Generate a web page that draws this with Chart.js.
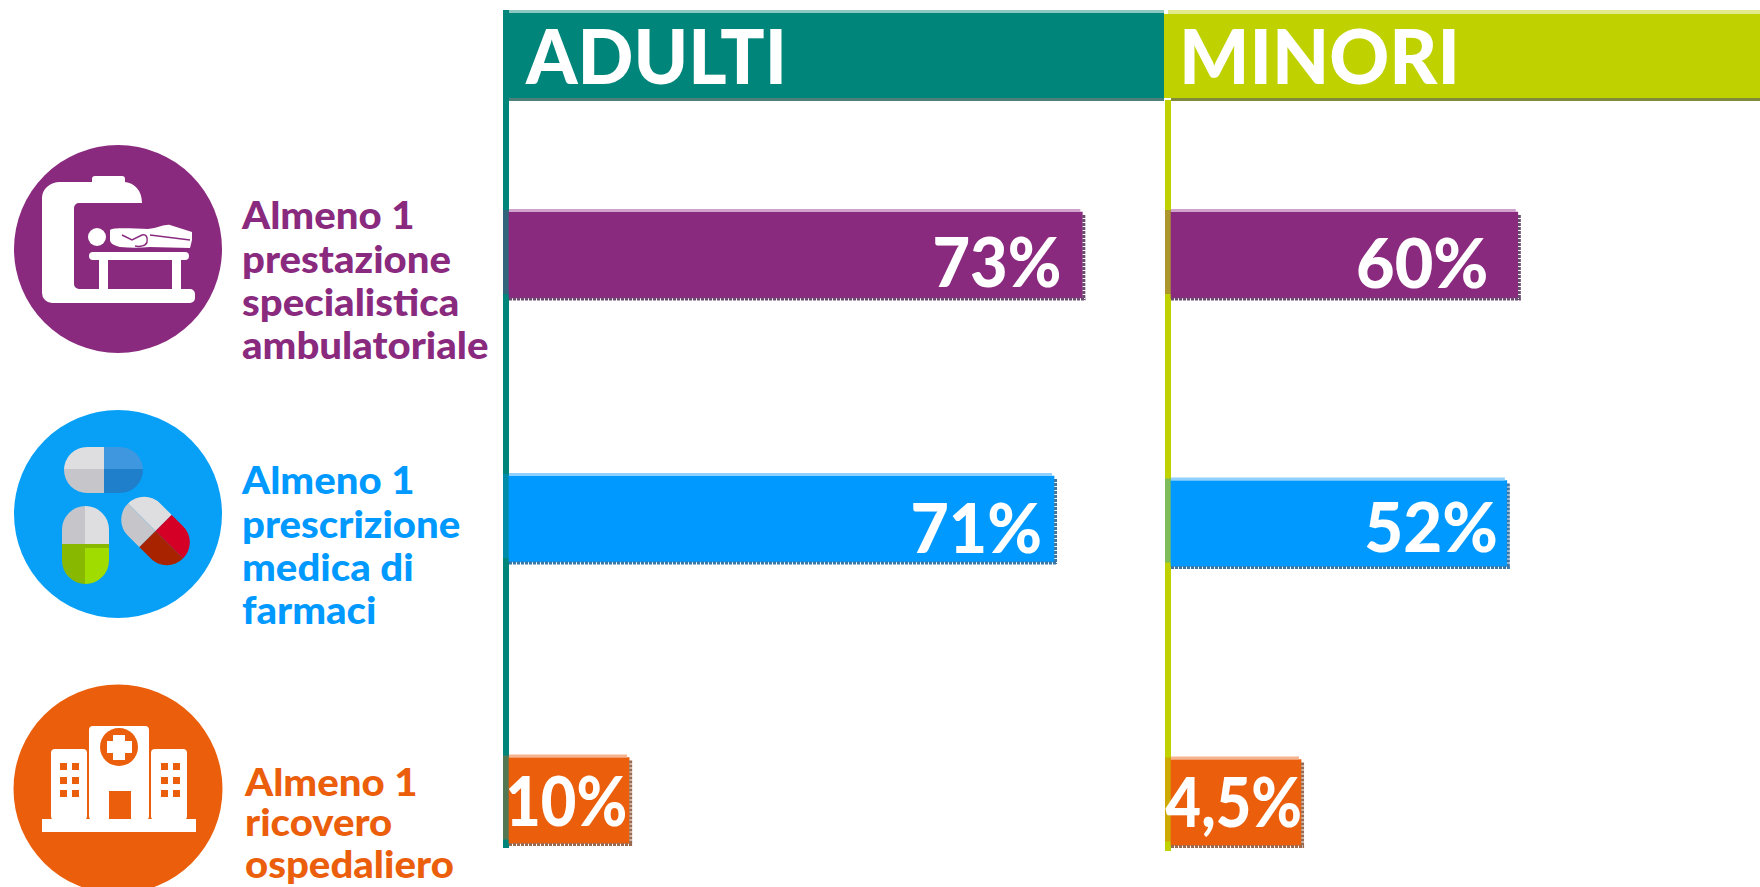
<!DOCTYPE html>
<html lang="it">
<head>
<meta charset="utf-8">
<title>Adulti e minori</title>
<script src="https://cdn.jsdelivr.net/npm/chart.js@4"></script>
<style>
html,body{margin:0;padding:0;background:#fff;width:1760px;height:887px;overflow:hidden}
body{position:relative;font-family:Lato,"Open Sans",sans-serif;font-weight:900}
.abs{position:absolute}
canvas{position:absolute;top:0}
.hdr{position:absolute;color:#fff;font-size:76px;line-height:1;white-space:nowrap;transform-origin:0 0}
.cat{position:absolute;white-space:nowrap;transform-origin:0 100%;line-height:1}
svg{position:absolute;left:0;top:0}
</style>
</head>
<body>
<svg width="1760" height="887" viewBox="0 0 1760 887">
  <defs>
    <clipPath id="c1"><rect x="64" y="447" width="79" height="46" rx="23"/></clipPath>
    <clipPath id="c2"><rect x="62" y="506" width="47" height="78" rx="23.5"/></clipPath>
    <clipPath id="c3"><rect x="-39" y="-23" width="78" height="46" rx="23"/></clipPath>
  </defs>
  <!-- ambulatoriale -->
  <circle cx="118" cy="249" r="104" fill="#8A2A7E"/>
  <path fill="#fff" d="M92 182V179a3 3 0 0 1 3-3H122a3 3 0 0 1 3 3V182C135 183 142 191 142 203H79a5 5 0 0 0-5 5V284a5 5 0 0 0 5 5H190a5 5 0 0 1 5 5V298a5 5 0 0 1-5 5H52a10 10 0 0 1-10-10V198C42 189 50 182 60 182Z"/>
  <rect x="89" y="252" width="100" height="8" rx="4" fill="#fff"/>
  <rect x="99" y="258" width="9" height="32" fill="#fff"/>
  <rect x="172" y="258" width="9" height="32" fill="#fff"/>
  <circle cx="97" cy="237" r="9" fill="#fff"/>
  <path fill="#fff" d="M110 230C115 227 135 229 148 229C158 228 165 224 170 225L192 232V240L190 248L150 247C140 248 130 248 120 247C113 245 110 243 110 240Z"/>
  <path fill="none" stroke="#8A2A7E" stroke-width="1.5" d="M122 235L132 240L142 235C146 234 148 237 147 242C146 246 140 247 135 246"/>
  <path fill="none" stroke="#8A2A7E" stroke-width="1.5" d="M150 235L190 240"/>
  <!-- farmaci -->
  <circle cx="118" cy="514" r="104" fill="#08A0F7"/>
  <g clip-path="url(#c1)">
    <rect x="64" y="447" width="40" height="22" fill="#DEDEE0"/>
    <rect x="64" y="469" width="40" height="24" fill="#C5C5CA"/>
    <rect x="104" y="447" width="39" height="22" fill="#3F97E0"/>
    <rect x="104" y="469" width="39" height="24" fill="#1F7FCB"/>
  </g>
  <g clip-path="url(#c2)">
    <rect x="62" y="506" width="23" height="38" fill="#C5C5CA"/>
    <rect x="85" y="506" width="24" height="38" fill="#DEDEE0"/>
    <rect x="62" y="544" width="23" height="40" fill="#89B800"/>
    <rect x="85" y="544" width="24" height="40" fill="#A0DC00"/>
    <rect x="62" y="544" width="47" height="4" fill="#89B800"/>
  </g>
  <g transform="translate(155.5 531) rotate(45)" clip-path="url(#c3)">
    <rect x="-39" y="-23" width="39" height="23" fill="#DEDEE0"/>
    <rect x="-39" y="0" width="39" height="23" fill="#C5C5CA"/>
    <rect x="0" y="-23" width="39" height="23" fill="#D50025"/>
    <rect x="0" y="0" width="39" height="23" fill="#A82400"/>
  </g>
  <!-- ospedale -->
  <circle cx="118" cy="789" r="104.5" fill="#EB5E0B"/>
  <g fill="#fff">
    <rect x="42" y="819" width="154" height="13"/>
    <rect x="51" y="749" width="36" height="71" rx="4"/>
    <rect x="89" y="726" width="60" height="94" rx="4"/>
    <rect x="151" y="749" width="36" height="71" rx="4"/>
  </g>
  <circle cx="119" cy="747" r="19" fill="#EB5E0B"/>
  <path fill="#fff" d="M113 735H125V741H132V753H125V760H113V753H107V741H113Z"/>
  <rect x="109" y="791" width="22" height="28" fill="#EB5E0B"/>
  <g fill="#EB5E0B">
    <rect x="60" y="763" width="7" height="7"/><rect x="72" y="763" width="7" height="7"/>
    <rect x="60" y="777" width="7" height="7"/><rect x="72" y="777" width="7" height="7"/>
    <rect x="60" y="790" width="7" height="7"/><rect x="72" y="790" width="7" height="7"/>
    <rect x="161" y="763" width="7" height="7"/><rect x="173" y="763" width="7" height="7"/>
    <rect x="161" y="777" width="7" height="7"/><rect x="173" y="777" width="7" height="7"/>
    <rect x="161" y="790" width="7" height="7"/><rect x="173" y="790" width="7" height="7"/>
  </g>
</svg>

<div class="abs" style="left:503px;top:10px;width:6px;height:838px;background:#00857A"></div>
<div class="abs" style="left:1165px;top:100px;width:6px;height:751px;background:#BFD200"></div>
<div class="abs" style="left:503px;top:13px;width:661px;height:85px;background:#00857A"></div>
<div class="abs" style="left:509px;top:10px;width:655px;height:3px;background:#8CC7C2"></div>
<div class="abs" style="left:509px;top:98px;width:655px;height:3px;background:#4F7F7B"></div>
<div class="abs" style="left:1164px;top:14px;width:596px;height:84px;background:#BFD200"></div>
<div class="abs" style="left:1168px;top:10px;width:592px;height:4px;background:#E3EA8E"></div>
<div class="abs" style="left:1171px;top:98px;width:589px;height:3px;background:#7F8A3A"></div>

<canvas id="adulti" width="661" height="887" style="left:503px"></canvas>
<canvas id="minori" width="595" height="887" style="left:1165px"></canvas>

<script>
// Row names, in the reference's line breaks
const categories = [
  ['Almeno 1', 'prestazione', 'specialistica', 'ambulatoriale'],
  ['Almeno 1', 'prescrizione', 'medica di', 'farmaci'],
  ['Almeno 1', 'ricovero', 'ospedaliero']
];
const panelTitles = ['ADULTI', 'MINORI'];

// Printed labels
const adultiLabels = ['73%', '71%', '10%'];
const minoriLabels = ['60%', '52%', '4,5%'];

// Drawn bar lengths. The reference's bars are not
// proportional to their printed labels (the 10% and 4,5% bars are far too long),
// so the lengths are kept apart from the labels, calibrated on the top bar of each panel.
const adultiBars = [73, 69.4, 15.3];
const minoriBars = [60, 58.1, 22.5];

const rowColors = ['#8A2A7E', '#0099FF', '#EB5E0B'];
const rowTints  = ['#CFA3CB', '#8FD0FF', '#F5B48F'];
const rowShades = ['#6A4A70', '#3A76A6', '#9A6A50'];

// Layout of the picture
const PLOT_LEFT_PAD = 6, ROW1_Y = 255, ROW3_Y = 801, BAR_THICK = 86;
const layoutA = {max: 83.4, nudge: [0, -9, -0.5], inset: [21, 12, 2], base: [287, 553, 826], squeeze: [0.94, 0.96, 0.89]};
const layoutM = {max: 101.9, nudge: [0, -4.5, 1.5], inset: [29.5, 9, -1], base: [288, 552, 827], squeeze: [0.965, 0.975, 0.89]};
const LABEL_FONT = '900 69px Lato, "Open Sans", sans-serif';

const barFinish = {
  id: 'barFinish',
  afterDatasetsUpdate(chart, args, o) {
    chart.getDatasetMeta(0).data.forEach((el, i) => { el.y += o.nudge[i]; });
  },
  afterDatasetsDraw(chart, args, o) {
    const ctx = chart.ctx;
    chart.getDatasetMeta(0).data.forEach((el, i) => {
      const top = el.y - el.height / 2, bottom = el.y + el.height / 2;
      const left = el.base, right = el.x;
      ctx.save();
      // light upper edge
      ctx.fillStyle = rowTints[i];
      ctx.fillRect(left, top - 3, right - left - 2, 3);
      // dark stippled lower and right edges
      ctx.strokeStyle = rowShades[i];
      ctx.lineWidth = 3;
      ctx.setLineDash([3, 1]);
      ctx.beginPath();
      ctx.moveTo(left, bottom + 1);
      ctx.lineTo(right + 3, bottom + 1);
      ctx.stroke();
      ctx.beginPath();
      ctx.moveTo(right + 1.5, top + 3);
      ctx.lineTo(right + 1.5, bottom + 2);
      ctx.stroke();
      // tint where the bar crosses the axis line
      ctx.setLineDash([]);
      ctx.globalAlpha = 0.35;
      ctx.fillStyle = rowColors[i];
      ctx.fillRect(0, top - 2, PLOT_LEFT_PAD, el.height - 2);
      ctx.globalAlpha = 1;
      // printed value
      ctx.translate(right - o.inset[i], o.base[i]);
      ctx.scale(o.squeeze[i], 1);
      ctx.font = LABEL_FONT;
      ctx.fillStyle = '#fff';
      ctx.textAlign = 'right';
      ctx.textBaseline = 'alphabetic';
      ctx.fillText(o.labels[i], 0, 0);
      ctx.restore();
    });
  }
};

function panel(id, title, bars, labels, lay) {
  return new Chart(document.getElementById(id), {
    type: 'bar',
    data: {
      labels: categories.map(c => c.join(' ')),
      datasets: [{
        label: title,
        data: bars,
        backgroundColor: rowColors,
        borderWidth: 0,
        barThickness: BAR_THICK,
        clip: false
      }]
    },
    options: {
      indexAxis: 'y',
      responsive: false,
      animation: false,
      layout: {padding: {left: PLOT_LEFT_PAD, right: 0, top: ROW1_Y, bottom: 887 - ROW3_Y}},
      scales: {
        x: {display: false, min: 0, max: lay.max},
        y: {display: false, offset: false}
      },
      plugins: {
        legend: {display: false},
        tooltip: {enabled: false},
        title: {display: false},
        barFinish: {nudge: lay.nudge, inset: lay.inset, base: lay.base, squeeze: lay.squeeze, labels}
      }
    },
    plugins: [barFinish]
  });
}
panel('adulti', panelTitles[0], adultiBars, adultiLabels, layoutA);
panel('minori', panelTitles[1], minoriBars, minoriLabels, layoutM);

// Panel titles and row names as page text
const titlePos = [[526, 17], [1179, 17]];
const titleSqueeze = [0.967, 0.975];
panelTitles.forEach((t, i) => {
  const d = document.createElement('div');
  d.className = 'hdr';
  d.textContent = t;
  d.style.left = titlePos[i][0] + 'px';
  d.style.top = titlePos[i][1] + 'px';
  d.style.transform = 'scaleX(' + titleSqueeze[i] + ')';
  document.body.appendChild(d);
});
const catX = [242, 242, 245];
const catBase = [[228, 272, 315, 358], [493, 537, 580, 623], [795, 835, 877]];
const CAT_SIZE = 37, CAT_STRETCH = 1.085;
categories.forEach((lines, r) => lines.forEach((txt, l) => {
  const d = document.createElement('div');
  d.className = 'cat';
  d.textContent = txt;
  d.style.left = catX[r] + 'px';
  d.style.fontSize = CAT_SIZE + 'px';
  d.style.color = rowColors[r];
  d.style.top = (catBase[r][l] - CAT_SIZE * 0.86) + 'px';
  d.style.transform = 'scaleX(' + CAT_STRETCH + ')';
  document.body.appendChild(d);
}));
</script>
</body>
</html>
